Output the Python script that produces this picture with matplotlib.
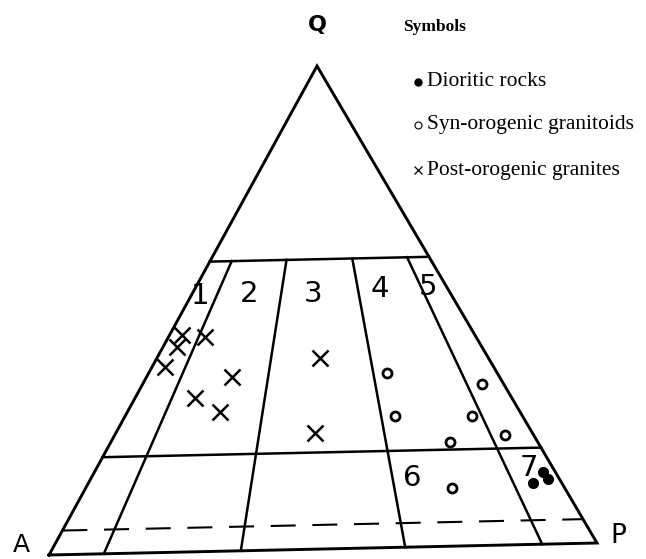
import numpy as np
import matplotlib
matplotlib.use('Agg')
import matplotlib.pyplot as plt

# QAP-Dreieck (Streckeisen), Werte in Prozent: Q und P, A = 100 - Q - P
post_Q = [45.0, 42.4, 38.3, 44.5, 36.1, 31.9, 28.9, 39.6, 24.1]
post_P = [2.3, 2.6, 2.5, 6.7, 15.8, 11.0, 17.1, 30.1, 36.8]

syn_Q = [36.2, 27.1, 33.5, 26.9, 22.8, 21.6, 12.1]
syn_P = [44.0, 49.9, 62.6, 64.0, 72.1, 62.6, 67.6]

dio_Q = [12.7, 15.0, 13.5]
dio_P = [82.1, 82.8, 84.5]

# Feldgrenzen
q_grenzen = [60, 20]
q_gestrichelt = 5
p_verhaeltnis = [10, 35, 65, 90]   # P/(A+P) in %

feld_namen = ['1', '2', '3', '4', '5', '6', '7']
legende = ['Dioritic rocks', 'Syn-orogenic granitoids', 'Post-orogenic granites']

# Ecken des Dreiecks in Bildkoordinaten
ecke_A = np.array([49.0, 555.0])
ecke_P = np.array([597.0, 543.0])
ecke_Q = np.array([317.0, 66.0])


def to_xy(q, p):
    q = np.asarray(q, dtype=float)
    p = np.asarray(p, dtype=float)
    a = 100 - q - p
    x = (a * ecke_A[0] + p * ecke_P[0] + q * ecke_Q[0]) / 100
    y = (a * ecke_A[1] + p * ecke_P[1] + q * ecke_Q[1]) / 100
    return x, y


def ratio_xy(q, r):
    # Punkt mit gegebenem Q und P/(A+P) = r
    p = (100 - q) * r / 100
    return to_xy(q, p)


fig = plt.figure(figsize=(6.46, 5.59), dpi=100)
ax = fig.add_axes([0, 0, 1, 1])
ax.set_xlim(0, 646)
ax.set_ylim(559, 0)
ax.axis('off')

lw = 1.8
# Umriss
ux, uy = to_xy([0, 0, 100, 0], [0, 100, 0, 0])
ax.plot(ux, uy, color='black', lw=2.1, solid_joinstyle='miter')

# horizontale Grenzen
for q in q_grenzen:
    x, y = to_xy([q, q], [0, 100 - q])
    ax.plot(x, y, color='black', lw=lw)

x, y = to_xy([q_gestrichelt, q_gestrichelt], [0, 100 - q_gestrichelt])
ax.plot(x, y, color='black', lw=1.5, linestyle=(0, (12, 8)))

# radiale Grenzen
for r in p_verhaeltnis:
    x0, y0 = ratio_xy(60, r)
    x1, y1 = ratio_xy(0, r)
    ax.plot([x0, x1], [y0, y1], color='black', lw=lw)

# Feldnummern
label_pos = [(200, 296), (249, 294), (313, 294), (380, 289), (428, 287), (412, 478), (529, 468)]
for name, (lx, ly) in zip(feld_namen, label_pos):
    ax.text(lx, ly, name, fontsize=21, ha='center', va='center', family='DejaVu Sans')

# Datenpunkte
x, y = to_xy(post_Q, post_P)
ax.plot(x, y, 'x', color='black', ms=11, mew=1.8, ls='none')
x, y = to_xy(syn_Q, syn_P)
ax.plot(x, y, 'o', color='black', mfc='white', ms=6.5, mew=2.0, ls='none')
x, y = to_xy(dio_Q, dio_P)
ax.plot(x, y, 'o', color='black', ms=7, ls='none')

# Ecken
ax.text(317, 25, 'Q', fontsize=16, fontweight='bold', ha='center', va='center')
ax.text(21, 545, 'A', fontsize=18, ha='center', va='center')
ax.text(618, 536, 'P', fontsize=19, ha='center', va='center')

# Legende
serif = 'Liberation Serif'
ax.text(403, 27, 'Symbols', fontsize=12.5, fontweight='bold', family=serif, va='center')
sym_y = [82, 125, 170]
ax.plot(418, sym_y[0], 'o', color='black', ms=5)
ax.plot(418, sym_y[1], 'o', color='black', mfc='white', ms=5, mew=0.8)
ax.plot(418, sym_y[2], 'x', color='black', ms=5.5, mew=0.9)
for txt, ty in zip(legende, sym_y):
    ax.text(427, ty, txt, fontsize=15.5, family=serif, va='center')

fig.savefig('out.png', dpi=100)
